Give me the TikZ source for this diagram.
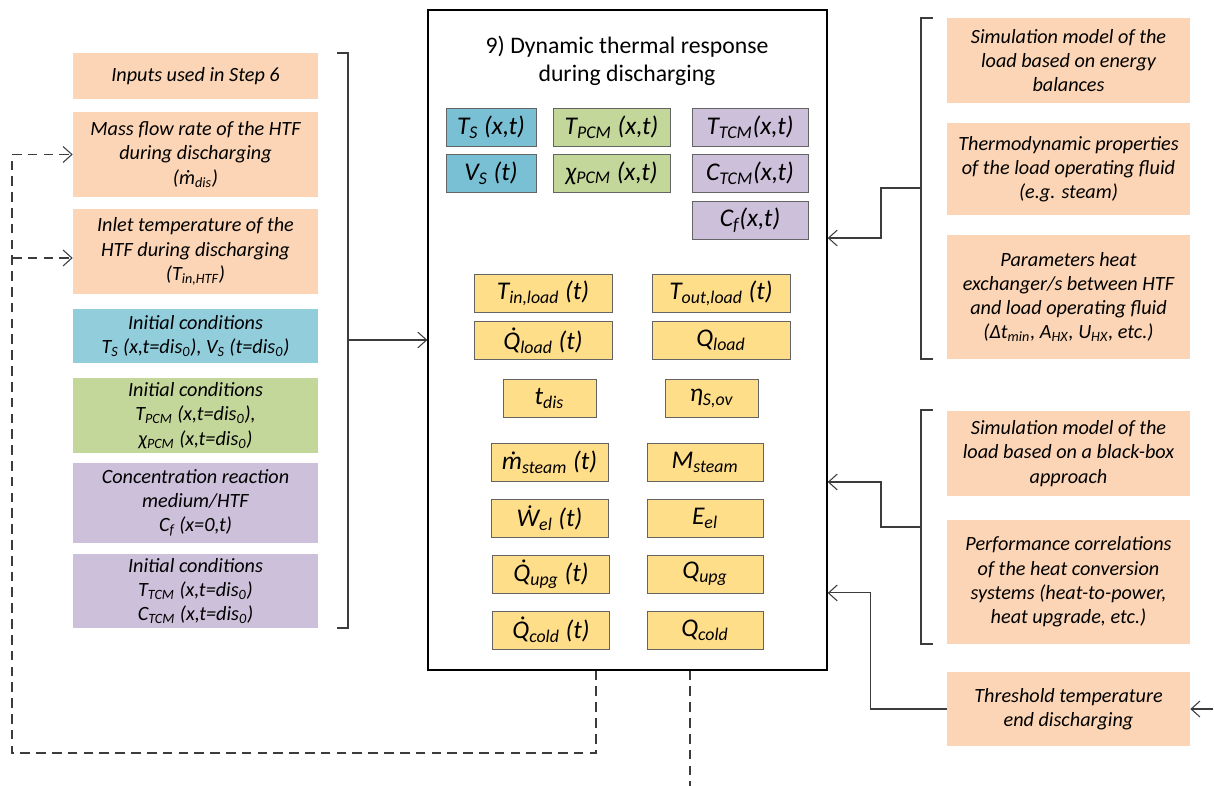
\documentclass[tikz,border=0pt]{standalone}
\usepackage{fontspec}
\setmainfont{Carlito}
\definecolor{inorange}{RGB}{251,213,181}
\definecolor{inblue}{RGB}{146,205,220}
\definecolor{varblue}{RGB}{122,192,212}
\definecolor{ingreen}{RGB}{196,215,155}
\definecolor{inpurple}{RGB}{204,192,218}
\definecolor{outyellow}{RGB}{255,222,137}
\definecolor{boxgray}{RGB}{100,100,100}
\definecolor{linegray}{RGB}{60,60,60}
\usetikzlibrary{arrows.meta,positioning,calc}
% dot over a letter (Carlito has no combining dot)
\newcommand\qdot[1]{\accent"02D9 #1}
\tikzset{
  inbox/.style={fill=#1,minimum width=4.9cm,align=center,inner sep=1pt,
    font=\itshape\fontsize{11.5}{13.8}\selectfont},
  varbox/.style={draw=boxgray,fill=#1,minimum height=0.76cm,inner sep=1pt,
    font=\itshape\fontsize{14.5}{16}\selectfont},
  mainbox/.style={draw,thick,minimum width=7.98cm,minimum height=13.2cm},
  arr/.style={draw=linegray,semithick,-{Straight Barb[length=5pt,width=9pt]}},
  bracket/.style={draw=linegray,semithick},
  dashline/.style={draw=linegray,semithick,dash pattern=on 5.5pt off 3.5pt},
  dasharr/.style={dashline,-{Straight Barb[length=5pt,width=9pt]}}
}
\begin{document}
\begin{tikzpicture}[x=0.02cm,y=-0.02cm]
\useasboundingbox (0,0) rectangle (1214,785);
% inputs (left)
\node[inbox=inorange,minimum height=0.92cm] (in6) at (195.5,76) {Inputs used in Step 6};
\node[inbox=inorange,minimum height=1.7cm] (mdis) at (195.5,154.5) {Mass flow rate of the HTF\\during discharging\\(ṁ\textsubscript{dis})};
\node[inbox=inorange,minimum height=1.7cm] (tin) at (195.5,251.5) {Inlet temperature of the\\HTF during discharging\\(T\textsubscript{in,HTF})};
\node[inbox=inblue,minimum height=1.08cm] (icS) at (195.5,336) {Initial conditions\\T\textsubscript{S} (x,t=dis\textsubscript{0}), V\textsubscript{S} (t=dis\textsubscript{0})};
\node[inbox=ingreen,minimum height=1.5cm] (icPCM) at (195.5,415.5) {Initial conditions\\T\textsubscript{PCM} (x,t=dis\textsubscript{0}),\\χ\textsubscript{PCM} (x,t=dis\textsubscript{0})};
\node[inbox=inpurple,minimum height=1.6cm] (conc) at (195.5,503) {Concentration reaction\\medium/HTF\\C\textsubscript{f} (x=0,t)};
\node[inbox=inpurple,minimum height=1.48cm] (icTCM) at (195.5,591) {Initial conditions\\T\textsubscript{TCM} (x,t=dis\textsubscript{0})\\C\textsubscript{TCM} (x,t=dis\textsubscript{0})};
% step 9 box
\node[mainbox] (main) at (627.5,340) {};
\node[align=center,font=\fontsize{13.5}{16}\selectfont] (title) at (627,61) {9) Dynamic thermal response\\during discharging};
\node[varbox=varblue,minimum width=1.8cm] (Ts) at (491,127) {T\textsubscript{S} (x,t)};
\node[varbox=varblue,minimum width=1.8cm] (Vs) at (491,173) {V\textsubscript{S} (t)};
\node[varbox=ingreen,minimum width=2.34cm] (Tpcm) at (611.5,127) {T\textsubscript{PCM} (x,t)};
\node[varbox=ingreen,minimum width=2.34cm] (Xpcm) at (611.5,173) {χ\textsubscript{PCM} (x,t)};
\node[varbox=inpurple,minimum width=2.32cm] (Ttcm) at (750,127) {T\textsubscript{TCM}(x,t)};
\node[varbox=inpurple,minimum width=2.32cm] (Ctcm) at (750,173) {C\textsubscript{TCM}(x,t)};
\node[varbox=inpurple,minimum width=2.32cm] (Cf) at (750,220.5) {C\textsubscript{f}(x,t)};
\node[varbox=outyellow,minimum width=2.76cm] (Tinl) at (543,293) {T\textsubscript{in,load} (t)};
\node[varbox=outyellow,minimum width=2.76cm] (Toutl) at (721,293) {T\textsubscript{out,load} (t)};
\node[varbox=outyellow,minimum width=2.76cm] (Qdl) at (543,340.5) {\qdot{Q}\textsubscript{load} (t)};
\node[varbox=outyellow,minimum width=2.76cm] (Ql) at (721,340.5) {Q\textsubscript{load}};
\node[varbox=outyellow,minimum width=1.86cm] (tdis) at (549.5,398.5) {t\textsubscript{dis}};
\node[varbox=outyellow,minimum width=1.86cm] (eta) at (711.5,398.5) {η\textsubscript{S,ov}};
\node[varbox=outyellow,minimum width=2.34cm] (mst) at (549.5,462) {ṁ\textsubscript{steam} (t)};
\node[varbox=outyellow,minimum width=2.32cm] (Mst) at (705,462) {M\textsubscript{steam}};
\node[varbox=outyellow,minimum width=2.34cm] (Wel) at (549.5,518) {Ẇ\textsubscript{el} (t)};
\node[varbox=outyellow,minimum width=2.32cm] (Eel) at (705,518) {E\textsubscript{el}};
\node[varbox=outyellow,minimum width=2.34cm] (Qdu) at (551,574) {\qdot{Q}\textsubscript{upg} (t)};
\node[varbox=outyellow,minimum width=2.32cm] (Qu) at (705,574) {Q\textsubscript{upg}};
\node[varbox=outyellow,minimum width=2.34cm] (Qdc) at (551,630) {\qdot{Q}\textsubscript{cold} (t)};
\node[varbox=outyellow,minimum width=2.32cm] (Qc) at (705,630) {Q\textsubscript{cold}};
% models and parameters (right)
\node[inbox=inorange,minimum width=4.86cm,minimum height=1.7cm] (sme) at (1068.5,60.5) {Simulation model of the\\load based on energy\\balances};
\node[inbox=inorange,minimum width=4.86cm,minimum height=1.84cm] (thp) at (1068.5,169) {Thermodynamic properties\\of the load operating fluid\\(e.g. steam)};
\node[inbox=inorange,minimum width=4.86cm,minimum height=2.48cm] (phx) at (1068.5,297) {Parameters heat\\exchanger/s between HTF\\and load operating fluid\\(Δt\textsubscript{min}, A\textsubscript{HX}, U\textsubscript{HX}, etc.)};
\node[inbox=inorange,minimum width=4.86cm,minimum height=1.7cm] (smb) at (1068.5,453.5) {Simulation model of the\\load based on a black-box\\approach};
\node[inbox=inorange,minimum width=4.86cm,minimum height=2.48cm] (pcr) at (1068.5,582) {Performance correlations\\of the heat conversion\\systems (heat-to-power,\\heat upgrade, etc.)};
\node[inbox=inorange,minimum width=4.86cm,minimum height=1.48cm] (thr) at (1068.5,709) {Threshold temperature\\end discharging};
% brackets
\draw[bracket] (337,53) -- (348,53) -- (348,628) -- (337,628);
\coordinate (lb) at (348,340);
\draw[arr] (lb) -- (main.west);
\draw[bracket] (933,18) -- (921,18) -- (921,359) -- (933,359);
\coordinate (rb1) at (921,188);
\draw[arr] (rb1) -- ++(-40,0) |- ([yshift=2.04cm]main.east);
\draw[bracket] (933,410) -- (921,410) -- (921,644) -- (933,644);
\coordinate (rb2) at (921,527);
\draw[arr] (rb2) -- ++(-40,0) |- ([yshift=-2.84cm]main.east);
\draw[arr] (thr.west) -- ++(-76,0) |- ([yshift=-5.06cm]main.east);
\coordinate (thrin) at (1213,709);
\draw[arr] (thrin) -- (thr.east);
% feedback (dashed)
\coordinate (fb) at (12,753);
\draw[dashline] ([xshift=-0.63cm]main.south) |- (fb) -- (fb |- mdis.west);
\draw[dasharr] (fb |- mdis.west) -- (mdis.west);
\draw[dasharr] ([yshift=-0.13cm]fb |- tin.west) -- ([yshift=-0.13cm]tin.west);
\draw[dashline] ([xshift=1.25cm]main.south) -- ++(0,115);
\end{tikzpicture}
\end{document}
